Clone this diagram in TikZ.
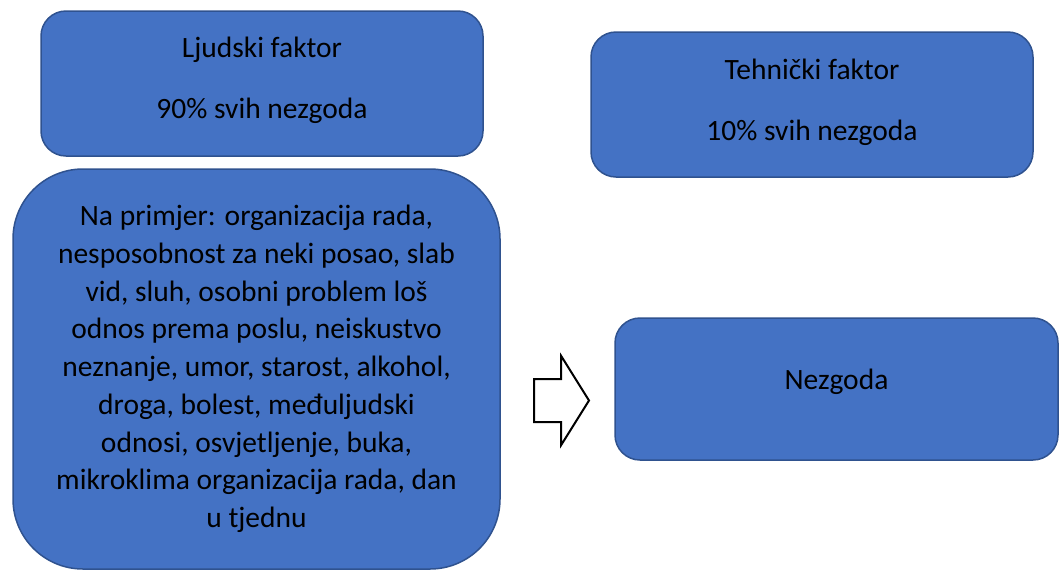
\documentclass[tikz,border=0pt]{standalone}
\usepackage{fontspec}
\setmainfont{Carlito}
\usetikzlibrary{shapes,arrows,positioning}
\definecolor{plava}{HTML}{4472C4}
\definecolor{rub}{HTML}{2F528F}
\tikzset{
  okvir/.style={draw=rub,line width=1.5pt,fill=plava,rounded corners=25pt,
    align=center,inner sep=0pt,font=\fontsize{29.5}{37.75}\selectfont},
  strelica/.style={single arrow,draw=black,line width=2pt,fill=white,
    inner xsep=0pt,inner ysep=20.5pt,minimum height=55pt,
    single arrow head extend=23pt,single arrow tip angle=116}
}
\begin{document}
\begin{tikzpicture}[x=1pt,y=-1pt]
\useasboundingbox (0,0) rectangle (1062,571);

% gornji okviri
\node[okvir,minimum width=442pt,minimum height=145pt,text depth=11pt]
  (ljudski) at (262,83.5) {Ljudski faktor\\[23pt]90\% svih nezgoda};
\node[okvir,minimum width=442pt,minimum height=145pt,text depth=9pt]
  (tehnicki) at (812,104.5) {Tehnički faktor\\[23pt]10\% svih nezgoda};

% primjeri
\node[okvir,rounded corners=70pt,minimum width=487pt,minimum height=400pt]
  (primjer) at (256.5,369)
  {Na primjer: organizacija rada,\\
   nesposobnost za neki posao, slab\\
   vid, sluh, osobni problem loš\\
   odnos prema poslu, neiskustvo\\
   neznanje, umor, starost, alkohol,\\
   droga, bolest, međuljudski\\
   odnosi, osvjetljenje, buka,\\
   mikroklima organizacija rada, dan\\
   u tjednu};

% nezgoda
\node[okvir,minimum width=443pt,minimum height=142pt,text depth=20pt]
  (nezgoda) at (836.5,389) {Nezgoda};

\node[strelica,anchor=tail] (prijelaz) at (533,400.5) {};
\end{tikzpicture}
\end{document}
